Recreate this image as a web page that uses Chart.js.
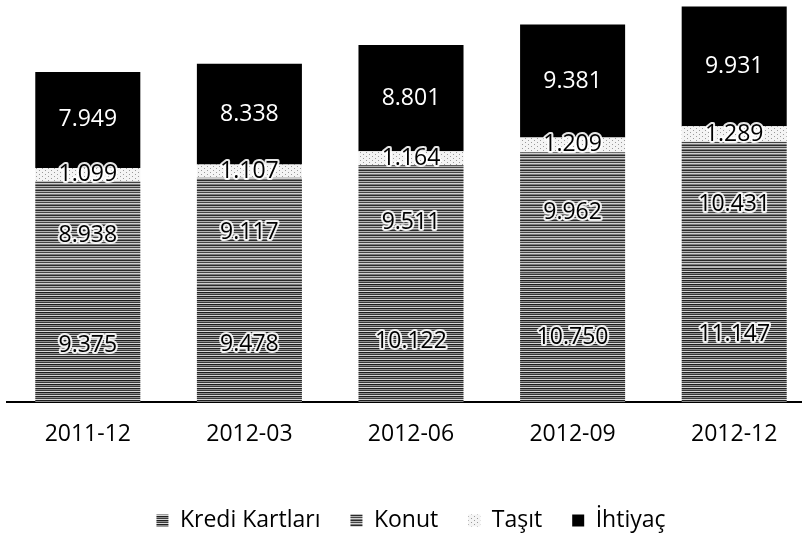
<!DOCTYPE html>
<html>
<head>
<meta charset="utf-8">
<script src="https://cdn.jsdelivr.net/npm/chart.js@4.4.1/dist/chart.umd.min.js"></script>
<style>
  html, body { margin: 0; padding: 0; background: #fff; overflow: hidden; }
  #wrap { width: 815px; height: 538px; }
</style>
</head>
<body>
<div id="wrap"><canvas id="myChart"></canvas></div>
<script>
const periods = ["2011-12", "2012-03", "2012-06", "2012-09", "2012-12"];
const krediKartlari = [9375, 9478, 10122, 10750, 11147];
const konut = [8938, 9117, 9511, 9962, 10431];
const tasit = [1099, 1107, 1164, 1209, 1289];
const ihtiyac = [7949, 8338, 8801, 9381, 9931];
const seriesNames = ["Kredi Kartları", "Konut", "Taşıt", "İhtiyaç"];

// small tiles for the scanned hatch look
function makePattern(rows, w) {
  var c = document.createElement("canvas");
  c.width = w;
  c.height = rows.length;
  var x = c.getContext("2d");
  rows.forEach(function (r, i) {
    x.fillStyle = r;
    x.fillRect(0, i, w, 1);
  });
  return c;
}

var ctx = document.getElementById("myChart").getContext("2d");

var krediTile = makePattern(["#1e1e1e", "#8c8c8c", "#3a3a3a", "#d6d6d6"], 8);
var konutTile = makePattern(["#2a2a2a", "#b0b0b0", "#444", "#cfcfcf", "#7a7a7a"], 8);

var tasitTile = document.createElement("canvas");
tasitTile.width = 6;
tasitTile.height = 4;
var tx = tasitTile.getContext("2d");
tx.fillStyle = "#f4f4f4";
tx.fillRect(0, 0, 6, 4);
tx.fillStyle = "#9a9a9a";
tx.fillRect(0, 0, 1, 1);
tx.fillRect(3, 2, 1, 1);

var krediFill = ctx.createPattern(krediTile, "repeat");
var konutFill = ctx.createPattern(konutTile, "repeat");
var tasitFill = ctx.createPattern(tasitTile, "repeat");

function fmt(v) {
  return String(v).replace(/\B(?=(\d{3})+(?!\d))/g, ".");
}

// value labels in the middle of each segment
const segmentLabels = {
  id: "segmentLabels",
  afterDatasetsDraw(chart) {
    var c = chart.ctx;
    c.save();
    c.font = "23px 'Open Sans'";
    c.textAlign = "center";
    c.textBaseline = "middle";
    c.lineJoin = "round";
    chart.data.datasets.forEach(function (ds, di) {
      var meta = chart.getDatasetMeta(di);
      meta.data.forEach(function (bar, i) {
        var p = bar.getProps(["x", "y", "base"], true);
        var yc = (p.y + p.base) / 2;
        var txt = fmt(ds.data[i]);
        if (di === 3) {
          c.fillStyle = "#fff";
          c.fillText(txt, p.x, yc);
        } else {
          c.strokeStyle = "rgba(255,255,255,0.9)";
          c.lineWidth = 4;
          c.strokeText(txt, p.x, yc);
          c.fillStyle = "#000";
          c.fillText(txt, p.x, yc);
        }
      });
    });
    c.restore();
  },
};

var myChart = new Chart(ctx, {
  type: "bar",
  data: {
    labels: periods,
    datasets: [
      { label: seriesNames[0], data: krediKartlari, backgroundColor: krediFill, borderWidth: 0 },
      { label: seriesNames[1], data: konut, backgroundColor: konutFill, borderWidth: 0 },
      { label: seriesNames[2], data: tasit, backgroundColor: tasitFill, borderWidth: 0 },
      { label: seriesNames[3], data: ihtiyac, backgroundColor: "#000", borderWidth: 0 },
    ],
  },
  options: {
    responsive: true,
    maintainAspectRatio: false,
    animation: false,
    layout: { padding: { left: 7, right: 0, top: 4, bottom: -4 } },
    datasets: {
      bar: { categoryPercentage: 1, barPercentage: 0.65 },
    },
    scales: {
      x: {
        stacked: true,
        grid: { display: false, drawTicks: false },
        border: { display: true, color: "#000", width: 2 },
        ticks: {
          color: "#000",
          padding: 19,
          font: { family: "'Open Sans'", size: 23 },
        },
        afterFit: function (scale) {
          scale.height = 77;
        },
      },
      y: {
        stacked: true,
        display: false,
        min: 0,
        max: 33000,
      },
    },
    plugins: {
      legend: {
        position: "bottom",
        labels: {
          color: "#000",
          boxWidth: 12,
          boxHeight: 12,
          padding: 30,
          font: { family: "'Open Sans'", size: 23 },
        },
      },
      tooltip: { enabled: false },
    },
  },
  plugins: [segmentLabels],
});
</script>
</body>
</html>
